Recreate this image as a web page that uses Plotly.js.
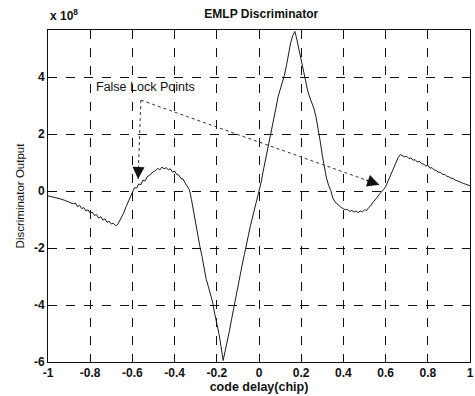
<!DOCTYPE html>
<html>
<head>
<meta charset="utf-8">
<script src="https://cdn.plot.ly/plotly-3.0.1.min.js"></script>
<style>html,body{margin:0;padding:0;background:#fff;}#chart{width:475px;height:396px;}</style>
</head>
<body>
<div id="chart"></div>
<script>
// code delay (chip)
var codeDelay = [
-1.00,-0.98,-0.96,-0.94,-0.92,-0.90,-0.88,-0.87,-0.86,-0.85,-0.84,-0.83,-0.82,-0.81,-0.80,-0.79,-0.78,-0.77,-0.76,-0.75,
-0.74,-0.73,-0.72,-0.71,-0.70,-0.69,-0.68,-0.67,-0.66,-0.65,-0.64,-0.63,-0.62,-0.61,-0.60,-0.59,-0.58,-0.57,-0.56,-0.55,
-0.54,-0.53,-0.52,-0.51,-0.50,-0.49,-0.48,-0.47,-0.46,-0.45,-0.44,-0.43,-0.42,-0.41,-0.40,-0.39,-0.38,-0.37,-0.36,-0.35,
-0.34,-0.33,-0.32,-0.31,-0.30,-0.29,-0.28,-0.27,-0.26,-0.25,-0.24,-0.23,-0.22,-0.21,-0.20,-0.19,-0.18,-0.17,-0.16,-0.15,
-0.14,-0.13,-0.12,-0.11,-0.10,-0.09,-0.08,-0.07,-0.06,-0.05,-0.04,-0.03,-0.02,-0.01,0.00,0.01,0.02,0.03,0.04,0.05,
0.06,0.07,0.08,0.09,0.10,0.11,0.12,0.13,0.14,0.15,0.16,0.17,0.18,0.19,0.20,0.21,0.22,0.23,0.24,0.25,
0.26,0.27,0.28,0.29,0.30,0.31,0.32,0.33,0.34,0.35,0.36,0.37,0.38,0.39,0.40,0.41,0.42,0.43,0.44,0.45,
0.46,0.47,0.48,0.49,0.50,0.51,0.52,0.53,0.54,0.55,0.56,0.57,0.58,0.59,0.60,0.61,0.62,0.63,0.64,0.65,
0.66,0.67,0.68,0.69,0.70,0.71,0.72,0.73,0.74,0.75,0.76,0.77,0.78,0.79,0.80,0.81,0.82,0.83,0.84,0.85,
0.86,0.87,0.88,0.89,0.90,0.91,0.92,0.93,0.94,0.95,0.96,0.97,0.98,0.99,1.00];
// discriminator output (x 1e8)
var discOutput = [
-0.17,-0.20,-0.24,-0.28,-0.33,-0.38,-0.45,-0.42,-0.55,-0.50,-0.62,-0.58,-0.70,-0.66,-0.78,-0.74,-0.86,-0.82,-0.95,-0.90,
-1.02,-0.98,-1.10,-1.06,-1.16,-1.13,-1.22,-1.18,-1.05,-0.92,-0.75,-0.55,-0.38,-0.20,-0.02,0.12,0.10,0.25,0.22,0.38,
0.35,0.50,0.55,0.62,0.68,0.72,0.80,0.74,0.84,0.78,0.82,0.74,0.78,0.66,0.70,0.58,0.56,0.44,0.42,0.28,
0.18,0.05,-0.30,-0.75,-1.20,-1.60,-1.95,-2.30,-2.70,-3.10,-3.35,-3.60,-3.90,-4.30,-4.60,-5.00,-5.45,-5.95,-5.60,-5.30,
-4.90,-4.50,-4.10,-3.75,-3.30,-2.95,-2.60,-2.25,-1.95,-1.55,-1.20,-0.90,-0.60,-0.35,-0.05,0.30,0.70,1.05,1.40,1.75,
2.10,2.50,2.90,3.30,3.55,3.80,4.05,4.40,4.80,5.20,5.45,5.60,5.30,4.95,4.55,4.15,3.80,3.55,3.30,3.10,
2.90,2.60,2.20,1.75,1.25,0.80,0.45,0.20,0.02,-0.25,-0.38,-0.45,-0.52,-0.58,-0.62,-0.66,-0.64,-0.72,-0.68,-0.74,
-0.70,-0.76,-0.70,-0.73,-0.66,-0.68,-0.58,-0.52,-0.40,-0.32,-0.22,-0.12,-0.05,0.05,0.15,0.32,0.50,0.68,0.85,1.02,
1.18,1.28,1.25,1.20,1.22,1.14,1.16,1.08,1.10,1.02,1.04,0.96,0.94,0.88,0.90,0.80,0.82,0.74,0.72,0.66,
0.66,0.58,0.58,0.52,0.50,0.45,0.44,0.38,0.36,0.32,0.30,0.26,0.24,0.20,0.18];

var xTickVals = [-1,-0.8,-0.6,-0.4,-0.2,0,0.2,0.4,0.6,0.8,1];
var xTickText = ["-1","-0.8","-0.6","-0.4","-0.2","0","0.2","0.4","0.6","0.8","1"];
var yTickVals = [-6,-4,-2,0,2,4];
var yTickText = ["-6","-4","-2","0","2","4"];

// annotation: "False Lock Points" pointer lines
var labelText = "False Lock Points";
var labelPos = [-0.54, 3.65];
var pointerStart = [-0.56, 3.19];
var pointerTipsX = [-0.573, 0.57];
var pointerTipsY = [0.42, 0.22];

var traces = [
  {x: codeDelay, y: discOutput, type: 'scatter', mode: 'lines',
   line: {color: '#1a1a1a', width: 1}, hoverinfo: 'skip'}
];
for (var i = 0; i < pointerTipsX.length; i++) {
  traces.push({x: [pointerStart[0], pointerTipsX[i]], y: [pointerStart[1], pointerTipsY[i]],
    type: 'scatter', mode: 'lines', line: {color: '#333', width: 1, dash: 'dot'}, hoverinfo: 'skip'});
}

var annotations = [
  {text: labelText, x: labelPos[0], y: labelPos[1], xref: 'x', yref: 'y', showarrow: false,
   font: {family: 'Liberation Sans, Arial', size: 12.5, color: '#111'}},
  {text: 'x 10<sup>8</sup>', x: 0, y: 1, xref: 'paper', yref: 'paper', xanchor: 'left', yanchor: 'bottom',
   yshift: 5, showarrow: false, font: {family: 'Liberation Sans, Arial', size: 12, color: '#111', weight: 'bold'}}
];
// arrowheads pointing along each pointer line
for (var j = 0; j < pointerTipsX.length; j++) {
  annotations.push({x: pointerTipsX[j], y: pointerTipsY[j], xref: 'x', yref: 'y',
    axref: 'x', ayref: 'y',
    ax: pointerTipsX[j] - (pointerTipsX[j] - pointerStart[0]) * 0.06,
    ay: pointerTipsY[j] - (pointerTipsY[j] - pointerStart[1]) * 0.06,
    text: '', showarrow: true, arrowhead: 2, arrowsize: 1.6, arrowwidth: 1.5, arrowcolor: '#111'});
}

var axisFont = {family: 'Liberation Sans, Arial', size: 12, color: '#111', weight: 'bold'};

var layout = {
  width: 475, height: 396,
  margin: {l: 48, r: 5, t: 30, b: 34},
  paper_bgcolor: '#fff', plot_bgcolor: '#fff',
  showlegend: false,
  title: {text: 'EMLP Discriminator', x: 0.55, xanchor: 'center', y: 0.965, yanchor: 'middle',
          font: {family: 'Liberation Sans, Arial', size: 12, color: '#111', weight: 'bold'}},
  xaxis: {range: [-1, 1], tickvals: xTickVals, ticktext: xTickText, tickfont: axisFont,
          showgrid: true, gridcolor: '#111', griddash: 'dash', gridwidth: 1,
          showline: true, linecolor: '#111', linewidth: 1, mirror: true, zeroline: false,
          ticks: '', title: {text: 'code delay(chip)', standoff: 1,
          font: {family: 'Liberation Sans, Arial', size: 12.5, color: '#111', weight: 'bold'}}},
  yaxis: {range: [-6, 5.65], tickvals: yTickVals, ticktext: yTickText, tickfont: axisFont,
          showgrid: true, gridcolor: '#111', griddash: 'dash', gridwidth: 1,
          showline: true, linecolor: '#111', linewidth: 1, mirror: true, zeroline: false,
          ticks: '', title: {text: 'Discriminator Output', standoff: 6,
          font: {family: 'Liberation Sans, Arial', size: 11.5, color: '#111'}}},
  annotations: annotations
};

Plotly.newPlot('chart', traces, layout, {displayModeBar: false, staticPlot: true});
</script>
</body>
</html>
